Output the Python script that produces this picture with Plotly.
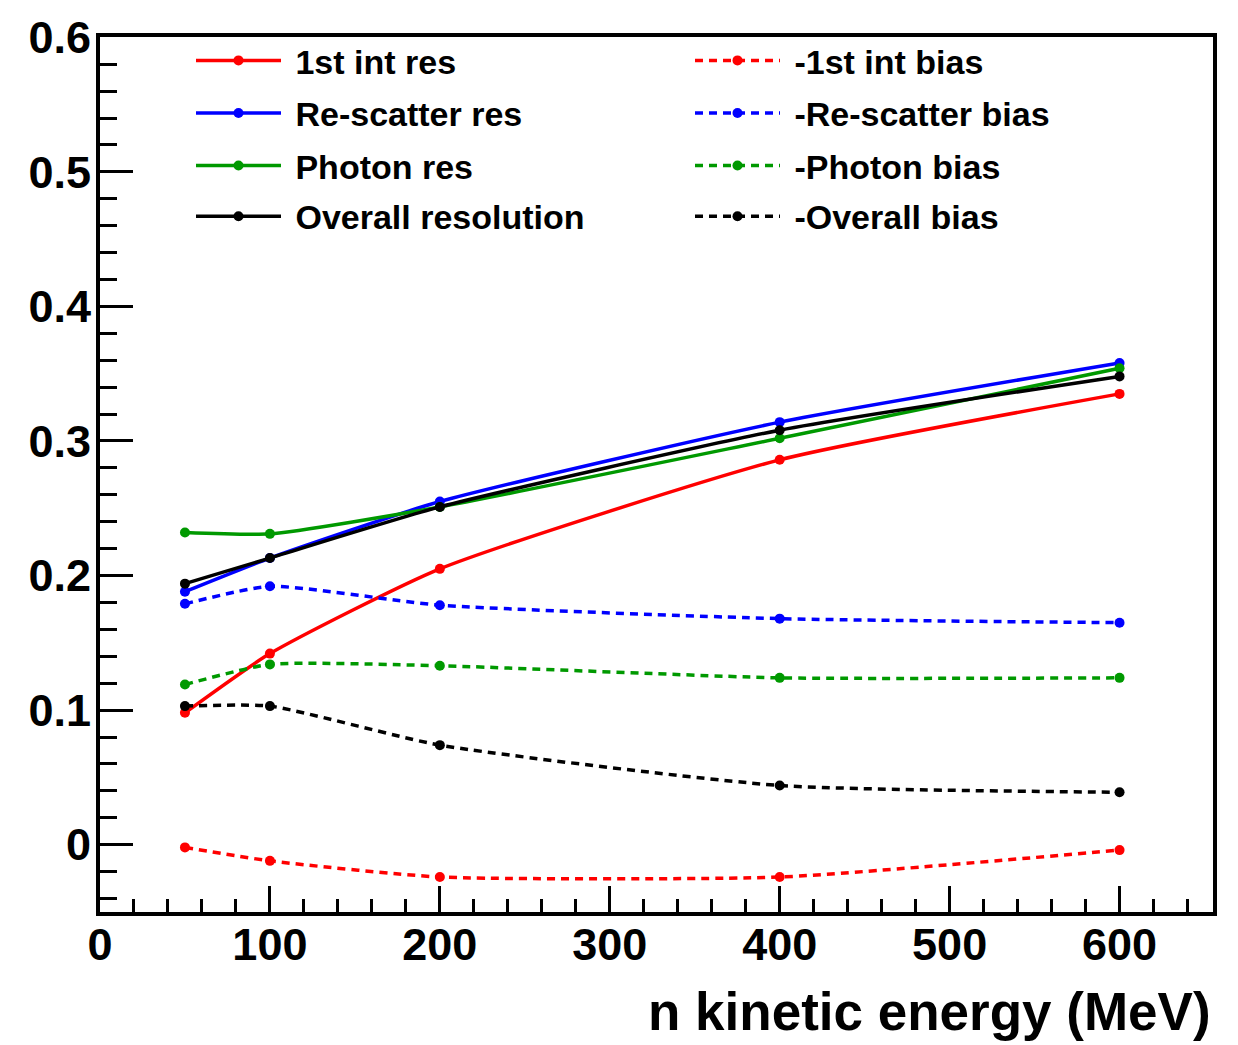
import plotly.graph_objects as go

energy = [50, 100, 200, 400, 600]

first_int_res = [0.098, 0.142, 0.205, 0.286, 0.335]
rescatter_res = [0.188, 0.213, 0.255, 0.314, 0.358]
photon_res = [0.232, 0.231, 0.251, 0.302, 0.354]
overall_res = [0.194, 0.213, 0.251, 0.308, 0.348]

first_int_bias = [-0.002, -0.012, -0.024, -0.024, -0.004]
rescatter_bias = [0.179, 0.192, 0.178, 0.168, 0.165]
photon_bias = [0.119, 0.134, 0.133, 0.124, 0.124]
overall_bias = [0.103, 0.103, 0.074, 0.044, 0.039]

res_names = ["1st int res", "Re-scatter res", "Photon res", "Overall resolution"]
bias_names = ["-1st int bias", "-Re-scatter bias", "-Photon bias", "-Overall bias"]
colors = ["#ff0000", "#0000ff", "#009900", "#000000"]

res_series = [first_int_res, rescatter_res, photon_res, overall_res]
bias_series = [first_int_bias, rescatter_bias, photon_bias, overall_bias]

FONT = "Liberation Sans"

# page body margin removed via post_script; plot area in page pixels: x 100..1213, y 30..912
PL, PR, PT, PB = 100, 1213, 30, 912
W, H = 1238, 1045
L, T = PL, PT
R = W - PR
B = H - PB
pw, ph = PR - PL, PB - PT

def px_x(p):
    return (p - PL) / pw

def px_y(p):
    return (PB - p) / ph

row_px = [54, 107, 160, 211]
NBSP = "\u00a0"

fig = go.Figure()
legend_layouts = {}
n = 0
for col, (names, series, dash) in enumerate([(res_names, res_series, "solid"),
                                              (bias_names, bias_series, "8px,6px")]):
    for i in range(4):
        n += 1
        lname = "legend" if n == 1 else f"legend{n}"
        fig.add_trace(go.Scatter(
            x=energy, y=series[i], name=NBSP + names[i],
            mode="lines+markers",
            line=dict(color=colors[i], width=3.5, dash=dash, shape="spline", smoothing=0.55),
            marker=dict(color=colors[i], size=10, symbol="circle"),
            legend=lname,
        ))
        legend_layouts[lname] = dict(
            x=px_x(191 if col == 0 else 690), y=px_y(row_px[i]),
            xanchor="left", yanchor="middle",
            bgcolor="rgba(0,0,0,0)", borderwidth=0,
            itemwidth=85,
            font=dict(family=FONT, size=34, color="black", weight="bold"),
        )

fig.update_layout(
    width=W, height=H,
    margin=dict(l=L, r=R, t=T, b=B),
    paper_bgcolor="white", plot_bgcolor="white",
    showlegend=True,
    font=dict(family=FONT, color="black", weight="bold"),
    **legend_layouts,
)

fig.update_xaxes(
    range=[0, 655], dtick=100, tick0=0,
    ticks="inside", ticklen=26, tickwidth=3, tickcolor="black",
    minor=dict(dtick=20, ticklen=13, tickwidth=3, tickcolor="black", ticks="inside"),
    showline=True, linewidth=4, linecolor="black", mirror=True,
    showgrid=False, zeroline=False,
    ticklabelstandoff=-10,
    tickfont=dict(family=FONT, size=45, color="black", weight="bold"),
)
fig.update_yaxes(
    range=[-0.05, 0.6002], dtick=0.1, tick0=0,
    ticks="inside", ticklen=33, tickwidth=3, tickcolor="black",
    minor=dict(dtick=0.02, ticklen=17, tickwidth=3, tickcolor="black", ticks="inside"),
    showline=True, linewidth=4, linecolor="black", mirror=True,
    showgrid=False, zeroline=False,
    ticklabelstandoff=-4,
    tickfont=dict(family=FONT, size=45, color="black", weight="bold"),
)

fig.add_annotation(
    text="n kinetic energy (MeV)", xref="paper", yref="paper",
    x=1.0, y=px_y(1012), xanchor="right", yanchor="middle", showarrow=False,
    font=dict(family=FONT, size=53, color="black", weight="bold"),
)

fig.write_html("out.html", config={"displayModeBar": False},
               post_script="document.body.style.margin='0';")
